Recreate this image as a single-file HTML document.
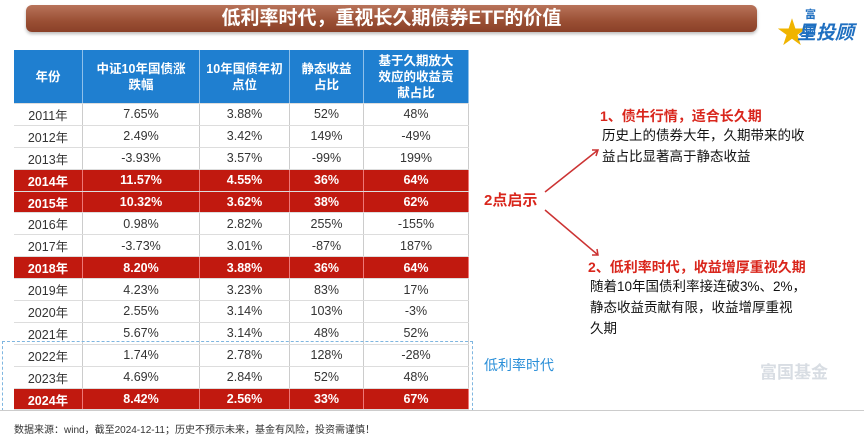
<!DOCTYPE html>
<html><head><meta charset="utf-8"><style>
body{margin:0;width:864px;height:441px;overflow:hidden;background:#fff;font-family:"Liberation Sans","Noto Sans CJK SC",sans-serif;position:relative}
.abs{position:absolute}
#title{left:26px;top:5px;width:731px;height:27px;border-radius:6px;background:linear-gradient(#b8735a,#9a4f34 60%,#8a4028);color:#fff;font-size:19px;font-weight:bold;text-align:center;line-height:27px;box-shadow:0 2px 3px #bbb}
table{position:absolute;left:14px;top:50px;border-collapse:collapse;font-size:12.5px;color:#333}
td,th{text-align:center;padding:0;border-right:1px solid #ccc;border-bottom:1px solid #ddd}
th{background:#1f7fd0;color:#fff;font-size:12.5px;font-weight:bold;height:53px;line-height:16px;border-right:1px solid #8fc0ea}
td{height:20.9px}
tr.r td{background:#c1190f;color:#fff;font-weight:bold;border-right:1px solid #e77}
.red{color:#d9261c;font-weight:bold;font-size:14px}
.body{font-size:13.5px;color:#111;line-height:21px;white-space:nowrap}
</style></head><body>
<div id="title" class="abs">低利率时代，重视长久期债券ETF的价值</div>
<div class="abs" style="left:785px;top:6px;color:#1f6fc0;font-weight:bold;font-size:11px"><span style="color:#f0b400;font-size:30px;position:absolute;left:-8px;top:2px">★</span><span style="position:absolute;left:20px;top:0">富国</span><span style="position:absolute;left:12px;top:12px;font-size:19px;font-style:italic;white-space:nowrap">星投顾</span></div>
<table>
<tr><th style="width:68px">年份</th><th style="width:116px">中证10年国债涨<br>跌幅</th><th style="width:89px">10年国债年初<br>点位</th><th style="width:73px">静态收益<br>占比</th><th style="width:104px">基于久期放大<br>效应的收益贡<br>献占比</th></tr>
<tr><td>2011年</td><td>7.65%</td><td>3.88%</td><td>52%</td><td>48%</td></tr>
<tr><td>2012年</td><td>2.49%</td><td>3.42%</td><td>149%</td><td>-49%</td></tr>
<tr><td>2013年</td><td>-3.93%</td><td>3.57%</td><td>-99%</td><td>199%</td></tr>
<tr class="r"><td>2014年</td><td>11.57%</td><td>4.55%</td><td>36%</td><td>64%</td></tr>
<tr class="r"><td>2015年</td><td>10.32%</td><td>3.62%</td><td>38%</td><td>62%</td></tr>
<tr><td>2016年</td><td>0.98%</td><td>2.82%</td><td>255%</td><td>-155%</td></tr>
<tr><td>2017年</td><td>-3.73%</td><td>3.01%</td><td>-87%</td><td>187%</td></tr>
<tr class="r"><td>2018年</td><td>8.20%</td><td>3.88%</td><td>36%</td><td>64%</td></tr>
<tr><td>2019年</td><td>4.23%</td><td>3.23%</td><td>83%</td><td>17%</td></tr>
<tr><td>2020年</td><td>2.55%</td><td>3.14%</td><td>103%</td><td>-3%</td></tr>
<tr><td>2021年</td><td>5.67%</td><td>3.14%</td><td>48%</td><td>52%</td></tr>
<tr><td>2022年</td><td>1.74%</td><td>2.78%</td><td>128%</td><td>-28%</td></tr>
<tr><td>2023年</td><td>4.69%</td><td>2.84%</td><td>52%</td><td>48%</td></tr>
<tr class="r"><td>2024年</td><td>8.42%</td><td>2.56%</td><td>33%</td><td>67%</td></tr>
</table>
<div class="abs" style="left:2px;top:341px;width:469px;height:68px;border:1px dashed #7fb6e0"></div>
<div class="abs" style="left:0;top:410px;width:864px;height:1px;background:#ccc"></div>
<div class="abs" style="left:484px;top:355px;color:#2a8fd8;font-size:14px">低利率时代</div>
<div class="abs red" style="left:484px;top:189px;font-size:15px">2点启示</div>
<svg class="abs" style="left:540px;top:140px" width="70" height="130">
<path d="M5 52 L58 10 M52 10 L58 10 L56 16" stroke="#c33" stroke-width="1.5" fill="none"/>
<path d="M5 70 L58 115 M52 115 L58 115 L57 109" stroke="#c33" stroke-width="1.5" fill="none"/>
</svg>
<div class="abs red" style="left:600px;top:106px">1、债牛行情，适合长久期</div>
<div class="abs body" style="left:602px;top:125px">历史上的债券大年，久期带来的收<br>益占比显著高于静态收益</div>
<div class="abs red" style="left:588px;top:257px">2、低利率时代，收益增厚重视久期</div>
<div class="abs body" style="left:590px;top:276px">随着10年国债利率接连破3%、2%，<br>静态收益贡献有限，收益增厚重视<br>久期</div>
<div class="abs" style="left:760px;top:358px;color:#d8dde3;font-size:17px;font-weight:bold">富国基金</div>
<div class="abs" style="left:14px;top:421px;font-size:10px;color:#333">数据来源：wind，截至2024-12-11；历史不预示未来，基金有风险，投资需谨慎！</div>
</body></html>
